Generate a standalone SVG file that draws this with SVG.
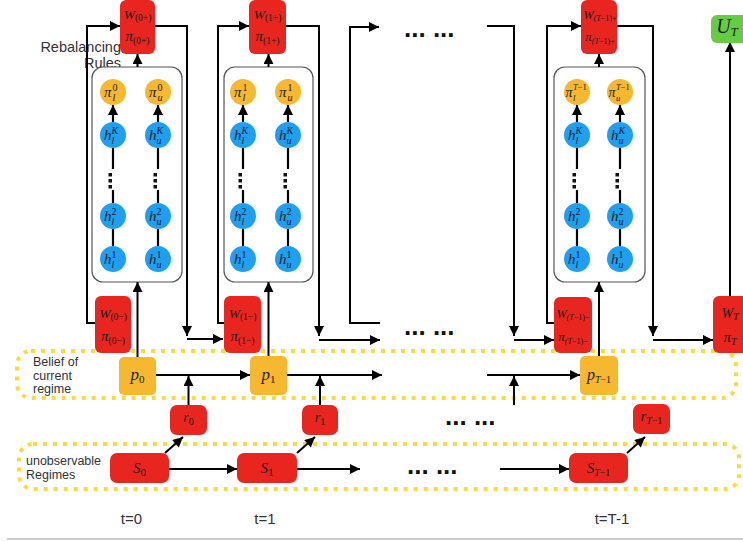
<svg xmlns="http://www.w3.org/2000/svg" width="743" height="541" viewBox="0 0 743 541">
<defs>
<marker id="ah" viewBox="0 0 10 10" refX="10" refY="5" markerWidth="11" markerHeight="10" markerUnits="userSpaceOnUse" orient="auto"><path d="M0,0 L10,5 L0,10 z" fill="#000"/></marker>
<marker id="as" viewBox="0 0 10 10" refX="10" refY="5" markerWidth="10" markerHeight="10" markerUnits="userSpaceOnUse" orient="auto"><path d="M0,0 L10,5 L0,10 z" fill="#000"/></marker>
</defs>
<style>
.bg{fill:#fff}
.red{fill:#E8261F}
.org{fill:#F5B82E}
.blu{fill:#1E9FF2}
.grn{fill:#66CC44}
.panel{fill:#fff;stroke:#555;stroke-width:1.2}
.dot{fill:none;stroke:#F9DC3C;stroke-width:4;stroke-dasharray:4 6}
.c2{fill:none;stroke:#000;stroke-width:2;marker-end:url(#ah)}
.cs{fill:none;stroke:#000;stroke-width:2.2;marker-end:url(#as)}
.sans{font-family:"Liberation Sans",Arial,sans-serif;fill:#333}
.m{font-family:"Liberation Serif","Times New Roman",serif;font-style:italic;fill:#1a1a1a}
.n{font-style:normal}
.ell{font-family:"Liberation Sans",Arial,sans-serif;font-weight:bold;font-size:26px;fill:#111}
.vd{fill:#111}
</style>
<rect class="bg" x="0" y="0" width="743" height="541"/>

<g id="belief-group">
<rect class="dot" x="17" y="351" width="719" height="47" rx="14"/>
<text class="sans" font-size="12.5" x="33" y="366">Belief of</text>
<text class="sans" font-size="12.5" x="33" y="380">current</text>
<text class="sans" font-size="12.5" x="33" y="393">regime</text>
</g>
<g id="regime-group">
<rect class="dot" x="19" y="444" width="720" height="45" rx="14"/>
<text class="sans" font-size="12.5" x="26" y="465">unobservable</text>
<text class="sans" font-size="12.5" x="26" y="479">Regimes</text>
</g>

<text class="sans" font-size="14.5" x="121" y="52" text-anchor="end">Rebalancing</text>
<text class="sans" font-size="14.5" x="121" y="68" text-anchor="end">Rules</text>

<g id="panel0"><rect class="panel" x="92" y="67" width="90" height="215" rx="11"/></g>
<g id="panel1"><rect class="panel" x="224" y="67" width="89" height="215" rx="11"/></g>
<g id="panelT"><rect class="panel" x="554" y="67" width="91" height="215" rx="11"/></g>

<g id="connectors">
<path class="c2" d="M95,323 H87 V26 H120"/>
<path class="c2" d="M155,26 H187 V336"/>
<path class="c2" d="M187,339 H223"/>
<path class="c2" d="M137.5,67 V54"/>
<path class="c2" d="M137.5,357 V282"/>
<path class="c2" d="M156,375 H250"/>
<path class="c2" d="M188.5,405 V376"/>
<path class="c2" d="M165,453 L183,437"/>
<path class="c2" d="M169,469 H237"/>
<path class="c2" d="M224,323 H218 V26 H249"/>
<path class="c2" d="M286,26 H319 V336"/>
<path class="c2" d="M319,340 H380"/>
<path class="c2" d="M268.5,67 V54"/>
<path class="c2" d="M268.5,356 V282"/>
<path class="c2" d="M287,375 H382"/>
<path class="c2" d="M320,405 V376"/>
<path class="c2" d="M297,453 L315,437"/>
<path class="c2" d="M297,469 H360"/>
<path class="c2" d="M380,323 H350 V27 H379"/>
<path class="c2" d="M487,26 H514 V336"/>
<path class="c2" d="M514,340 H554"/>
<path class="c2" d="M487,375 H580"/>
<path class="c2" d="M514,405 V376"/>
<path class="c2" d="M500,469 H569"/>
<path class="c2" d="M554,323 H547 V26 H581"/>
<path class="c2" d="M617,26 H653 V336"/>
<path class="c2" d="M653,340 H713"/>
<path class="c2" d="M599,67 V54"/>
<path class="c2" d="M599,356 V282"/>
<path class="c2" d="M627,453 L645,437"/>
<path class="c2" d="M730,296 V42"/>
<path class="cs" d="M113,246 V229 M113,203 V190 M113,169 V148 M113,122 V105"/>
<path class="cs" d="M158,246 V229 M158,203 V190 M158,169 V148 M158,122 V105"/>
<path class="cs" d="M243,246 V229 M243,203 V190 M243,169 V148 M243,122 V105"/>
<path class="cs" d="M288,246 V229 M288,203 V190 M288,169 V148 M288,122 V105"/>
<path class="cs" d="M577,246 V229 M577,203 V190 M577,169 V148 M577,122 V105"/>
<path class="cs" d="M620,246 V229 M620,203 V190 M620,169 V148 M620,122 V105"/>
</g>

<g id="vdots">
<rect class="vd" x="108.5" y="173" width="3.5" height="3.5"/><rect class="vd" x="108.5" y="179" width="3.5" height="3.5"/><rect class="vd" x="108.5" y="185" width="3.5" height="3.5"/>
<rect class="vd" x="153.5" y="173" width="3.5" height="3.5"/><rect class="vd" x="153.5" y="179" width="3.5" height="3.5"/><rect class="vd" x="153.5" y="185" width="3.5" height="3.5"/>
<rect class="vd" x="238.5" y="173" width="3.5" height="3.5"/><rect class="vd" x="238.5" y="179" width="3.5" height="3.5"/><rect class="vd" x="238.5" y="185" width="3.5" height="3.5"/>
<rect class="vd" x="283.5" y="173" width="3.5" height="3.5"/><rect class="vd" x="283.5" y="179" width="3.5" height="3.5"/><rect class="vd" x="283.5" y="185" width="3.5" height="3.5"/>
<rect class="vd" x="572.5" y="173" width="3.5" height="3.5"/><rect class="vd" x="572.5" y="179" width="3.5" height="3.5"/><rect class="vd" x="572.5" y="185" width="3.5" height="3.5"/>
<rect class="vd" x="615.5" y="173" width="3.5" height="3.5"/><rect class="vd" x="615.5" y="179" width="3.5" height="3.5"/><rect class="vd" x="615.5" y="185" width="3.5" height="3.5"/>
</g>

<text class="ell" x="404" y="37">... ...</text>
<text class="ell" x="404" y="335">... ...</text>
<text class="ell" x="445" y="425">... ...</text>
<text class="ell" x="407" y="474">... ...</text>

<g id="W0p"><rect class="red" x="120" y="0" width="35" height="54" rx="6"/>
<text class="m" x="137.5" y="19" text-anchor="middle" font-size="13.5">W<tspan class="n" font-size="9.5" dy="2">(0+)</tspan></text>
<text class="m" x="137.5" y="41" text-anchor="middle" font-size="15">π<tspan class="n" font-size="9.5" dy="3">(0+)</tspan></text></g>
<g id="W0m"><rect class="red" x="95" y="296" width="36" height="57" rx="6"/>
<text class="m" x="113" y="318" text-anchor="middle" font-size="13.5">W<tspan class="n" font-size="9.5" dy="2">(0−)</tspan></text>
<text class="m" x="113" y="341" text-anchor="middle" font-size="15">π<tspan class="n" font-size="9.5" dy="3">(0−)</tspan></text></g>
<g id="p0"><rect class="org" x="119" y="357" width="37" height="38" rx="5"/>
<text class="m" x="137.5" y="380" text-anchor="middle" font-size="17">p<tspan class="n" font-size="11" dy="3">0</tspan></text></g>
<g id="r0"><rect class="red" x="170" y="405" width="37" height="30" rx="7"/>
<text class="m" x="188.5" y="422" text-anchor="middle" font-size="14">r<tspan class="n" font-size="10" dy="3">0</tspan></text></g>
<g id="S0"><rect class="red" x="110" y="453" width="59" height="30" rx="7"/>
<text class="m" x="139.5" y="473" text-anchor="middle" font-size="15">S<tspan class="n" font-size="11" dy="3">0</tspan></text></g>

<g id="c0-pl0"><circle class="org" cx="113" cy="92" r="13"/><text class="m" font-size="15"><tspan x="104" y="97">π</tspan><tspan x="112.5" y="100.5" font-size="10">l</tspan><tspan class="n" x="112.5" y="91" font-size="10">0</tspan></text></g>
<g id="c0-pu0"><circle class="org" cx="158" cy="92" r="13"/><text class="m" font-size="15"><tspan x="149" y="97">π</tspan><tspan x="157.5" y="100.5" font-size="10">u</tspan><tspan class="n" x="157.5" y="91" font-size="10">0</tspan></text></g>
<g id="c0-hlK"><circle class="blu" cx="113" cy="135" r="13"/><text class="m" font-size="15"><tspan x="104" y="140">h</tspan><tspan x="111.5" y="143.5" font-size="10">l</tspan><tspan x="111.5" y="134" font-size="10">K</tspan></text></g>
<g id="c0-huK"><circle class="blu" cx="158" cy="135" r="13"/><text class="m" font-size="15"><tspan x="149" y="140">h</tspan><tspan x="156.5" y="143.5" font-size="10">u</tspan><tspan x="156.5" y="134" font-size="10">K</tspan></text></g>
<g id="c0-hl2"><circle class="blu" cx="113" cy="216" r="13"/><text class="m" font-size="15"><tspan x="104" y="221">h</tspan><tspan x="111.5" y="224.5" font-size="10">l</tspan><tspan class="n" x="111.5" y="215" font-size="10">2</tspan></text></g>
<g id="c0-hu2"><circle class="blu" cx="158" cy="216" r="13"/><text class="m" font-size="15"><tspan x="149" y="221">h</tspan><tspan x="156.5" y="224.5" font-size="10">u</tspan><tspan class="n" x="156.5" y="215" font-size="10">2</tspan></text></g>
<g id="c0-hl1"><circle class="blu" cx="113" cy="259" r="13"/><text class="m" font-size="15"><tspan x="104" y="264">h</tspan><tspan x="111.5" y="267.5" font-size="10">l</tspan><tspan class="n" x="111.5" y="258" font-size="10">1</tspan></text></g>
<g id="c0-hu1"><circle class="blu" cx="158" cy="259" r="13"/><text class="m" font-size="15"><tspan x="149" y="264">h</tspan><tspan x="156.5" y="267.5" font-size="10">u</tspan><tspan class="n" x="156.5" y="258" font-size="10">1</tspan></text></g>

<g id="W1p"><rect class="red" x="249" y="0" width="37" height="54" rx="6"/>
<text class="m" x="267.5" y="19" text-anchor="middle" font-size="13.5">W<tspan class="n" font-size="9.5" dy="2">(1+)</tspan></text>
<text class="m" x="267.5" y="41" text-anchor="middle" font-size="15">π<tspan class="n" font-size="9.5" dy="3">(1+)</tspan></text></g>
<g id="W1m"><rect class="red" x="224" y="296" width="37" height="57" rx="6"/>
<text class="m" x="242.5" y="318" text-anchor="middle" font-size="13.5">W<tspan class="n" font-size="9.5" dy="2">(1−)</tspan></text>
<text class="m" x="242.5" y="341" text-anchor="middle" font-size="15">π<tspan class="n" font-size="9.5" dy="3">(1−)</tspan></text></g>
<g id="p1"><rect class="org" x="250" y="356" width="37" height="39" rx="5"/>
<text class="m" x="268.5" y="380" text-anchor="middle" font-size="17">p<tspan class="n" font-size="11" dy="3">1</tspan></text></g>
<g id="r1"><rect class="red" x="302" y="405" width="36" height="30" rx="7"/>
<text class="m" x="320" y="422" text-anchor="middle" font-size="14">r<tspan class="n" font-size="10" dy="3">1</tspan></text></g>
<g id="S1"><rect class="red" x="237" y="453" width="60" height="30" rx="7"/>
<text class="m" x="267" y="473" text-anchor="middle" font-size="15">S<tspan class="n" font-size="11" dy="3">1</tspan></text></g>

<g id="c1-pl1"><circle class="org" cx="243" cy="92" r="13"/><text class="m" font-size="15"><tspan x="234" y="97">π</tspan><tspan x="242.5" y="100.5" font-size="10">l</tspan><tspan class="n" x="242.5" y="91" font-size="10">1</tspan></text></g>
<g id="c1-pu1"><circle class="org" cx="288" cy="92" r="13"/><text class="m" font-size="15"><tspan x="279" y="97">π</tspan><tspan x="287.5" y="100.5" font-size="10">u</tspan><tspan class="n" x="287.5" y="91" font-size="10">1</tspan></text></g>
<g id="c1-hlK"><circle class="blu" cx="243" cy="135" r="13"/><text class="m" font-size="15"><tspan x="234" y="140">h</tspan><tspan x="241.5" y="143.5" font-size="10">l</tspan><tspan x="241.5" y="134" font-size="10">K</tspan></text></g>
<g id="c1-huK"><circle class="blu" cx="288" cy="135" r="13"/><text class="m" font-size="15"><tspan x="279" y="140">h</tspan><tspan x="286.5" y="143.5" font-size="10">u</tspan><tspan x="286.5" y="134" font-size="10">K</tspan></text></g>
<g id="c1-hl2"><circle class="blu" cx="243" cy="216" r="13"/><text class="m" font-size="15"><tspan x="234" y="221">h</tspan><tspan x="241.5" y="224.5" font-size="10">l</tspan><tspan class="n" x="241.5" y="215" font-size="10">2</tspan></text></g>
<g id="c1-hu2"><circle class="blu" cx="288" cy="216" r="13"/><text class="m" font-size="15"><tspan x="279" y="221">h</tspan><tspan x="286.5" y="224.5" font-size="10">u</tspan><tspan class="n" x="286.5" y="215" font-size="10">2</tspan></text></g>
<g id="c1-hl1"><circle class="blu" cx="243" cy="259" r="13"/><text class="m" font-size="15"><tspan x="234" y="264">h</tspan><tspan x="241.5" y="267.5" font-size="10">l</tspan><tspan class="n" x="241.5" y="258" font-size="10">1</tspan></text></g>
<g id="c1-hu1"><circle class="blu" cx="288" cy="259" r="13"/><text class="m" font-size="15"><tspan x="279" y="264">h</tspan><tspan x="286.5" y="267.5" font-size="10">u</tspan><tspan class="n" x="286.5" y="258" font-size="10">1</tspan></text></g>

<g id="WTm1p"><rect class="red" x="581" y="0" width="36" height="54" rx="6"/>
<text class="m" x="600" y="19" text-anchor="middle" font-size="12">W<tspan font-size="8" dy="2">(T<tspan class="n">−1)+</tspan></tspan></text>
<text class="m" x="600" y="41" text-anchor="middle" font-size="13">π<tspan font-size="8" dy="3">(T<tspan class="n">−1)+</tspan></tspan></text></g>
<g id="WTm1m"><rect class="red" x="554" y="297" width="38" height="56" rx="6"/>
<text class="m" x="573" y="318" text-anchor="middle" font-size="12">W<tspan font-size="8" dy="2">(T<tspan class="n">−1)−</tspan></tspan></text>
<text class="m" x="573" y="341" text-anchor="middle" font-size="13">π<tspan font-size="8" dy="3">(T<tspan class="n">−1)−</tspan></tspan></text></g>
<g id="pTm1"><rect class="org" x="580" y="356" width="38" height="39" rx="5"/>
<text class="m" x="599" y="380" text-anchor="middle" font-size="16">p<tspan font-size="10" dy="3">T<tspan class="n">−1</tspan></tspan></text></g>
<g id="rTm1"><rect class="red" x="633" y="404" width="37" height="30" rx="7"/>
<text class="m" x="651.5" y="421" text-anchor="middle" font-size="14">r<tspan font-size="10" dy="3">T<tspan class="n">−1</tspan></tspan></text></g>
<g id="STm1"><rect class="red" x="569" y="453" width="59" height="30" rx="7"/>
<text class="m" x="598.5" y="473" text-anchor="middle" font-size="15">S<tspan font-size="10" dy="3">T<tspan class="n">−1</tspan></tspan></text></g>

<g id="cT-pl"><circle class="org" cx="577" cy="92" r="13"/><text class="m" font-size="14"><tspan x="565.5" y="97">π</tspan><tspan x="573" y="100.5" font-size="8.5">l</tspan><tspan x="573" y="90" font-size="8.5">T<tspan class="n">−1</tspan></tspan></text></g>
<g id="cT-pu"><circle class="org" cx="620" cy="92" r="13"/><text class="m" font-size="14"><tspan x="608.5" y="97">π</tspan><tspan x="616" y="100.5" font-size="8.5">u</tspan><tspan x="616" y="90" font-size="8.5">T<tspan class="n">−1</tspan></tspan></text></g>
<g id="cT-hlK"><circle class="blu" cx="577" cy="135" r="13"/><text class="m" font-size="15"><tspan x="568" y="140">h</tspan><tspan x="575.5" y="143.5" font-size="10">l</tspan><tspan x="575.5" y="134" font-size="10">K</tspan></text></g>
<g id="cT-huK"><circle class="blu" cx="620" cy="135" r="13"/><text class="m" font-size="15"><tspan x="611" y="140">h</tspan><tspan x="618.5" y="143.5" font-size="10">u</tspan><tspan x="618.5" y="134" font-size="10">K</tspan></text></g>
<g id="cT-hl2"><circle class="blu" cx="577" cy="216" r="13"/><text class="m" font-size="15"><tspan x="568" y="221">h</tspan><tspan x="575.5" y="224.5" font-size="10">l</tspan><tspan class="n" x="575.5" y="215" font-size="10">2</tspan></text></g>
<g id="cT-hu2"><circle class="blu" cx="620" cy="216" r="13"/><text class="m" font-size="15"><tspan x="611" y="221">h</tspan><tspan x="618.5" y="224.5" font-size="10">u</tspan><tspan class="n" x="618.5" y="215" font-size="10">2</tspan></text></g>
<g id="cT-hl1"><circle class="blu" cx="577" cy="259" r="13"/><text class="m" font-size="15"><tspan x="568" y="264">h</tspan><tspan x="575.5" y="267.5" font-size="10">l</tspan><tspan class="n" x="575.5" y="258" font-size="10">1</tspan></text></g>
<g id="cT-hu1"><circle class="blu" cx="620" cy="259" r="13"/><text class="m" font-size="15"><tspan x="611" y="264">h</tspan><tspan x="618.5" y="267.5" font-size="10">u</tspan><tspan class="n" x="618.5" y="258" font-size="10">1</tspan></text></g>

<g id="WT"><rect class="red" x="713" y="296" width="40" height="57" rx="6"/>
<text class="m" x="730" y="318" text-anchor="middle" font-size="14">W<tspan font-size="10" dy="2">T</tspan></text>
<text class="m" x="730" y="342" text-anchor="middle" font-size="15">π<tspan font-size="10" dy="3">T</tspan></text></g>
<g id="UT"><rect class="grn" x="711" y="15" width="42" height="28" rx="6"/>
<text class="m" x="727" y="33" text-anchor="middle" font-size="20">U<tspan font-size="13" dy="3">T</tspan></text></g>

<text class="sans" font-size="15" x="131.5" y="524" text-anchor="middle">t=0</text>
<text class="sans" font-size="15" x="265" y="524" text-anchor="middle">t=1</text>
<text class="sans" font-size="15" x="612" y="524" text-anchor="middle">t=T-1</text>
<line x1="7" y1="539" x2="743" y2="539" stroke="#bbb" stroke-width="1.5"/>
</svg>
